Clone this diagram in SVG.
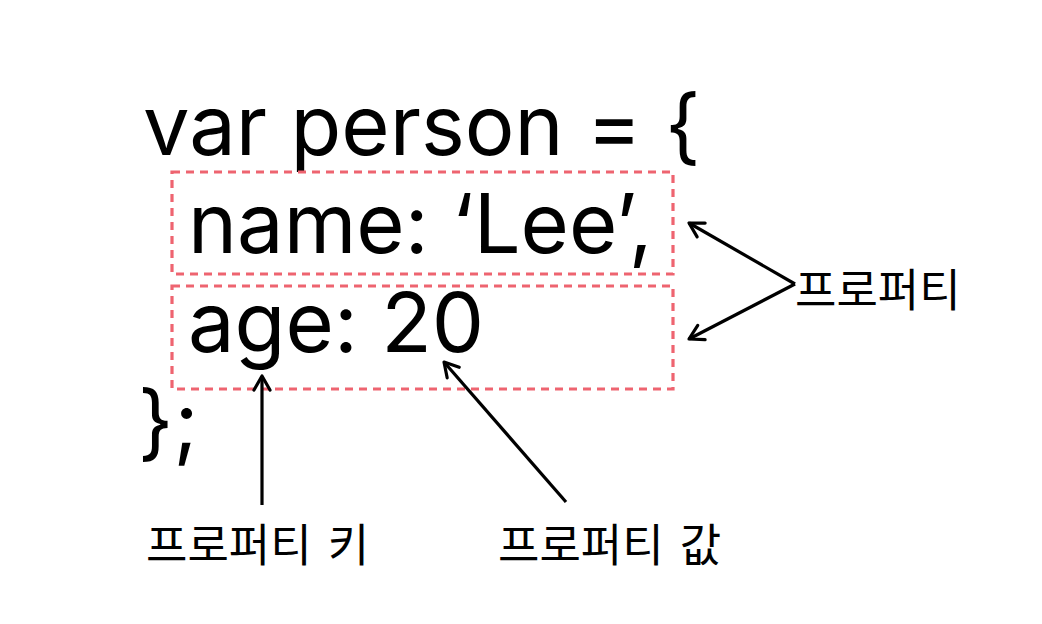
<svg xmlns="http://www.w3.org/2000/svg" width="1042" height="624" viewBox="0 0 1042 624">
<defs>
<style>
.code{font-family:Inter,"Liberation Sans",sans-serif;font-size:83px;fill:#000}
.lbl{font-family:"Noto Sans CJK KR","Noto Sans",sans-serif;font-size:45px;fill:#000;word-spacing:6px}
.box{fill:none;stroke:#ee6470;stroke-width:3.2;stroke-dasharray:8 6}
.ar{fill:none;stroke:#000;stroke-width:3.2;marker-end:url(#head)}
</style>
<marker id="head" viewBox="0 0 20 20" refX="17" refY="10" markerWidth="20" markerHeight="20" markerUnits="userSpaceOnUse" orient="auto">
<path d="M3 2 L17 10 L3 18" fill="none" stroke="#000" stroke-width="3.2" stroke-linecap="round" stroke-linejoin="round"/>
</marker>
</defs>
<rect width="1042" height="624" fill="#fff"/>
<g id="code">
<text class="code" x="143" y="155">var person = {</text>
<text class="code" x="188" y="253">name: ‘Lee’,</text>
<text class="code" x="188" y="352">age: 20</text>
<text class="code" x="138" y="451">};</text>
</g>
<g id="prop1"><rect class="box" x="172" y="172" width="501" height="102"/></g>
<g id="prop2"><rect class="box" x="172" y="286" width="501" height="103"/></g>
<g id="label-prop"><text class="lbl" x="795" y="307">프로퍼티</text></g>
<g id="label-key"><text class="lbl" x="146" y="562">프로퍼티 키</text></g>
<g id="label-value"><text class="lbl" x="498" y="562">프로퍼티 값</text></g>
<g id="connectors">
<line class="ar" x1="795" y1="284" x2="689" y2="223"/>
<line class="ar" x1="795" y1="284" x2="689" y2="339"/>
<line class="ar" x1="262" y1="505" x2="262" y2="376"/>
<line class="ar" x1="566" y1="502" x2="444" y2="362"/>
</g>
</svg>
